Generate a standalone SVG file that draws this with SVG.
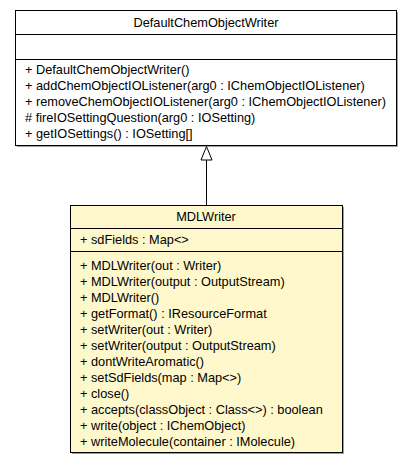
<svg xmlns="http://www.w3.org/2000/svg" width="413" height="464" viewBox="0 0 413 464">
<style>
text{font-family:"Liberation Sans",Arial,sans-serif;font-size:12.75px;fill:#000}
.c{text-anchor:middle}
.box{stroke:#000;stroke-width:1}
.sh{fill:#a0a0a0}
</style>
<rect width="413" height="464" fill="#fff"/>
<g id="DefaultChemObjectWriter">
<rect class="sh" x="17" y="12" width="381" height="135"/>
<rect class="box" x="15.5" y="10.5" width="381" height="135" fill="#fff"/>
<line class="box" x1="15.5" y1="34.5" x2="396.5" y2="34.5"/>
<line class="box" x1="15.5" y1="59.5" x2="396.5" y2="59.5"/>
<text class="c" x="206" y="27">DefaultChemObjectWriter</text>
<text x="25" y="74">+ DefaultChemObjectWriter()</text>
<text x="25" y="90">+ addChemObjectIOListener(arg0 : IChemObjectIOListener)</text>
<text x="25" y="106">+ removeChemObjectIOListener(arg0 : IChemObjectIOListener)</text>
<text x="25" y="122"># fireIOSettingQuestion(arg0 : IOSetting)</text>
<text x="25" y="138">+ getIOSettings() : IOSetting[]</text>
</g>
<g id="MDLWriter">
<rect class="sh" x="72" y="207" width="272" height="247"/>
<rect class="box" x="70.5" y="205.5" width="272" height="247" fill="#fff8cc"/>
<line class="box" x1="70.5" y1="228.5" x2="342.5" y2="228.5"/>
<line class="box" x1="70.5" y1="251.5" x2="342.5" y2="251.5"/>
<text class="c" x="206" y="221">MDLWriter</text>
<text x="80" y="244">+ sdFields : Map&lt;&gt;</text>
<text x="80" y="270">+ MDLWriter(out : Writer)</text>
<text x="80" y="286">+ MDLWriter(output : OutputStream)</text>
<text x="80" y="302">+ MDLWriter()</text>
<text x="80" y="318">+ getFormat() : IResourceFormat</text>
<text x="80" y="334">+ setWriter(out : Writer)</text>
<text x="80" y="350">+ setWriter(output : OutputStream)</text>
<text x="80" y="366">+ dontWriteAromatic()</text>
<text x="80" y="382">+ setSdFields(map : Map&lt;&gt;)</text>
<text x="80" y="398">+ close()</text>
<text x="80" y="414">+ accepts(classObject : Class&lt;&gt;) : boolean</text>
<text x="80" y="430">+ write(object : IChemObject)</text>
<text x="80" y="446">+ writeMolecule(container : IMolecule)</text>
</g>
<g id="connectors">
<line x1="206.5" y1="160" x2="206.5" y2="205" stroke="#000"/>
<polygon points="206.5,146.5 201,160 212,160" fill="#fff" stroke="#000"/>
</g>
</svg>
